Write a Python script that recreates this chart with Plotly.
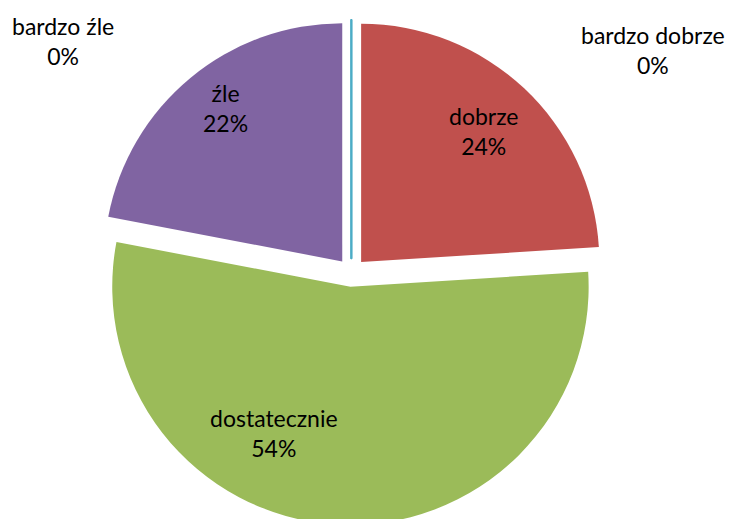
import plotly.graph_objects as go

# ── Data ────────────────────────────────────────────────────────────────────
LABELS = ["bardzo dobrze", "dobrze", "dostatecznie", "źle", "bardzo źle"]
VALUES = [0, 24, 54, 22, 0]
COLORS = ["#4F81BD", "#C0504D", "#9BBB59", "#8064A2", "#4BACC6"]

# label anchor spots (paper coords) — Excel places them freely
LABEL_POS = {
    "bardzo dobrze": (0.877, 0.919),
    "dobrze": (0.647, 0.763),
    "dostatecznie": (0.361, 0.181),
    "źle": (0.296, 0.807),
    "bardzo źle": (0.0754, 0.936),
}

FONT = "Lato, Open Sans, sans-serif"

fig = go.Figure()

fig.add_trace(go.Pie(
    labels=LABELS,
    values=VALUES,
    sort=False,
    direction="clockwise",
    rotation=0,
    pull=[0.06] * len(VALUES),
    marker=dict(
        colors=COLORS,
        line=dict(color=["#4BACC6", "white", "white", "white", "#4BACC6"],
                  width=[2, 0, 0, 0, 2]),
    ),
    textinfo="none",
    hoverinfo="label+percent",
    showlegend=False,
    domain=dict(x=[0.089, 0.844], y=[0.004, 0.977]),
))

total = sum(VALUES)
for lab, val in zip(LABELS, VALUES):
    x, y = LABEL_POS[lab]
    fig.add_annotation(
        x=x, y=y, xref="paper", yref="paper",
        xanchor="center", yanchor="middle",
        text=f"{lab}<br>{round(100 * val / total)}%",
        showarrow=False,
        font=dict(size=23, color="#000000", family=FONT),
        align="center",
    )

fig.update_layout(
    width=736, height=519,
    paper_bgcolor="white",
    plot_bgcolor="white",
    margin=dict(l=0, r=0, t=0, b=0),
)

fig.write_html("out.html")
